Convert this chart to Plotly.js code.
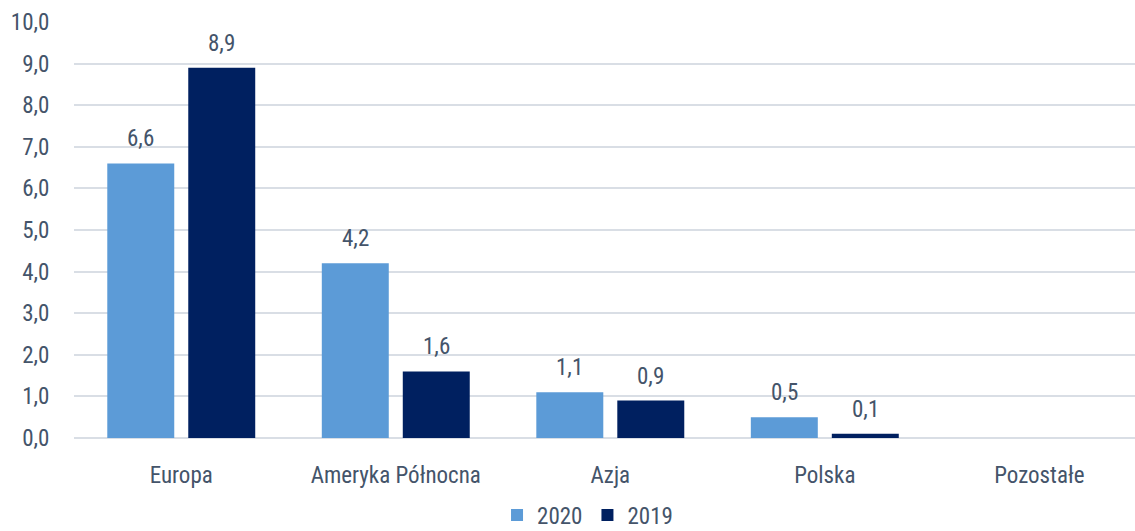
<!DOCTYPE html>
<html>
<head>
<meta charset="utf-8">
<script src="https://cdn.plot.ly/plotly-3.0.1.min.js"></script>
<style>html,body{margin:0;padding:0;overflow:hidden;background:#fff}</style>
</head>
<body>
<div id="chart" style="width:1135px;height:531px"></div>
<script>
const categories = ["Europa", "Ameryka Północna", "Azja", "Polska", "Pozostałe"];
const values2020 = [6.6, 4.2, 1.1, 0.5, null];
const values2019 = [8.9, 1.6, 0.9, 0.1, null];
const yTicks = [0,1,2,3,4,5,6,7,8,9,10];
const yTickLabels = ["0,0","1,0","2,0","3,0","4,0","5,0","6,0","7,0","8,0","9,0","10,0"];

const FONT = "Roboto Condensed, Roboto, sans-serif";
const TXT = "#44546A";
const FS = 23;

function fmt(v){ return v.toFixed(1).replace(".", ","); }

const annotations = [];
[[values2020, -40.5], [values2019, 40.5]].forEach(([vals, shift]) => {
  vals.forEach((v, i) => {
    if (v === null) return;
    annotations.push({
      x: categories[i], y: v, xref: "x", yref: "y",
      text: fmt(v), showarrow: false, xshift: shift, yshift: 9,
      yanchor: "bottom", font: {family: FONT, size: FS, color: TXT}
    });
  });
});

const data = [
  {type: "bar", name: "2020", x: categories, y: values2020,
   marker: {color: "#5C9BD7"}, hoverinfo: "none"},
  {type: "bar", name: "2019", x: categories, y: values2019,
   marker: {color: "#002060"}, hoverinfo: "none"}
];

const layout = {
  width: 1135, height: 531,
  margin: {l: 74, r: 0, t: 22, b: 93},
  paper_bgcolor: "#fff", plot_bgcolor: "#fff",
  barmode: "group", bargap: 0.245, bargroupgap: 0.173,
  font: {family: FONT, size: FS, color: TXT},
  xaxis: {
    type: "category", range: [-0.5, 4.446], showgrid: false, zeroline: false,
    showline: false, ticks: "outside", ticklen: 16, tickcolor: "rgba(0,0,0,0)",
    tickfont: {family: FONT, size: FS, color: TXT}, fixedrange: true
  },
  yaxis: {
    range: [0, 10], tickvals: yTicks, ticktext: yTickLabels,
    showgrid: true, gridcolor: "#D9DEE5", gridwidth: 2,
    zeroline: true, zerolinecolor: "#D9DEE5", zerolinewidth: 2,
    showline: false, ticks: "outside", ticklen: 19, tickcolor: "rgba(0,0,0,0)",
    tickfont: {family: FONT, size: FS, color: TXT}, fixedrange: true
  },
  showlegend: true,
  legend: {orientation: "h", x: 0.484, xanchor: "center",
           yref: "container", y: 0.03, yanchor: "middle",
           font: {family: FONT, size: FS, color: TXT}, itemwidth: 30, tracegroupgap: 0},
  annotations: annotations
};

Plotly.newPlot("chart", data, layout, {displayModeBar: false, staticPlot: true});
</script>
</body>
</html>
